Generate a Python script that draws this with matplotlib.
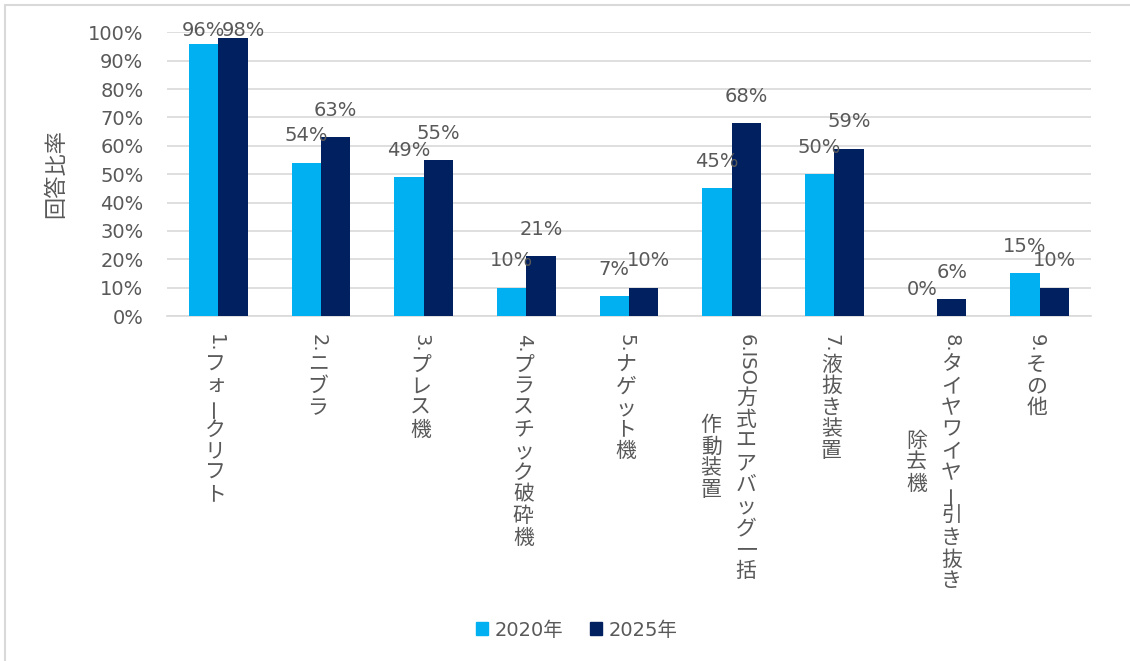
import matplotlib
matplotlib.use("Agg")
import matplotlib.pyplot as plt
from matplotlib.patches import Rectangle
from matplotlib.font_manager import FontProperties
import numpy as np

# ---------------- data ----------------
categories = [
    "1.フォークリフト",
    "2.ニブラ",
    "3.プレス機",
    "4.プラスチック破砕機",
    "5.ナゲット機",
    "6.ISO方式エアバッグ一括\n作動装置",
    "7.液抜き装置",
    "8.タイヤワイヤー引き抜き\n除去機",
    "9.その他",
]
values_2020 = [96, 54, 49, 10, 7, 45, 50, 0, 15]
values_2025 = [98, 63, 55, 21, 10, 68, 59, 6, 10]
series_names = ["2020年", "2025年"]
ytick_values = [0, 10, 20, 30, 40, 50, 60, 70, 80, 90, 100]
ytick_labels = [f"{v}%" for v in ytick_values]
y_label = "回答比率"

# ---------------- style ----------------
C2020 = "#00B0F0"
C2025 = "#002060"
TXT = "#595959"
GRID = "#D9D9D9"
LATIN_SIZE = 14
CJK_SIZE = 15

plt.rcParams['font.family'] = ['DejaVu Sans', 'Noto Sans CJK JP']

W, H = 1130, 661
fig = plt.figure(figsize=(W / 100, H / 100), dpi=100)

# outer chart border (left + top visible)
fig.patches.append(Rectangle((5 / W, -0.1), 1.2, (1 - 5 / H) + 0.1,
                             transform=fig.transFigure, fill=False,
                             edgecolor=GRID, linewidth=1.5))

ax = fig.add_axes([167 / W, 1 - 316 / H, (1091 - 167) / W, (316 - 32.3) / H])

x = np.arange(len(categories))
bw = 0.287
v20 = np.array(values_2020) / 100
v25 = np.array(values_2025) / 100
ax.bar(x - bw / 2, v20, bw, color=C2020, zorder=3, label=series_names[0])
ax.bar(x + bw / 2, v25, bw, color=C2025, zorder=3, label=series_names[1])

ax.set_xlim(-0.5, len(categories) - 0.5)
ax.set_ylim(0, 1)
ax.set_yticks(np.array(ytick_values) / 100)
ax.set_yticklabels(ytick_labels)
ax.yaxis.grid(True, color=GRID, linewidth=1.2, zorder=0)
ax.set_axisbelow(True)
for s in ['top', 'right', 'left']:
    ax.spines[s].set_visible(False)
ax.spines['bottom'].set_color(GRID)
ax.spines['bottom'].set_linewidth(1.2)
ax.tick_params(axis='y', length=0, pad=17, labelsize=LATIN_SIZE, labelcolor=TXT)
ax.set_xticks([])

# ---------------- data labels ----------------
label_nudge = {(0, 1): 10, (4, 1): 5}  # pixel nudges to avoid overlap
for si, vals in enumerate([values_2020, values_2025]):
    for i, v in enumerate(vals):
        xc = i + (-bw / 2 if si == 0 else bw / 2)
        yc = min(v + 9.5, 100.7) / 100
        ax.annotate(f"{v}%", xy=(xc, yc), xytext=(label_nudge.get((i, si), 0), 0),
                    textcoords='offset pixels', ha='center', va='center',
                    fontsize=LATIN_SIZE, color=TXT, annotation_clip=False,
                    family='DejaVu Sans')

# ---------------- vertical category labels ----------------
renderer = fig.canvas.get_renderer()
latin_fp = FontProperties(family='DejaVu Sans', size=LATIN_SIZE)
cjk_adv = 21.7


def split_runs(line):
    runs = []
    buf = ""
    for ch in line:
        if ord(ch) < 0x2000:
            buf += ch
        else:
            if buf:
                runs.append(("latin", buf))
                buf = ""
            runs.append(("cjk", ch))
    if buf:
        runs.append(("latin", buf))
    return runs


def run_len(kind, s):
    if kind == "latin":
        w, h, d = renderer.get_text_width_height_descent(s, latin_fp, ismath=False)
        return w + 2
    return cjk_adv


xtrans = ax.get_xaxis_transform()
top_gap = 17
col_sep = 35
for i, lab in enumerate(categories):
    lines = lab.split("\n")
    n = len(lines)
    runs_per_line = [split_runs(l) for l in lines]
    lens = [sum(run_len(k, s) for k, s in r) for r in runs_per_line]
    Lmax = max(lens)
    for li, runs in enumerate(runs_per_line):
        dx = -3 + ((n - 1) / 2 - li) * col_sep
        cum = top_gap + (Lmax - lens[li]) / 2
        for kind, s in runs:
            L = run_len(kind, s)
            yc = -(cum + L / 2)
            if kind == "latin":
                ax.annotate(s, xy=(i, 0), xycoords=xtrans, xytext=(dx, yc),
                            textcoords='offset pixels', rotation=270,
                            ha='center', va='center', fontsize=LATIN_SIZE,
                            color=TXT, family='DejaVu Sans', annotation_clip=False)
            else:
                rot = 90 if s == "ー" else 0
                ax.annotate(s, xy=(i, 0), xycoords=xtrans, xytext=(dx, yc),
                            textcoords='offset pixels', rotation=rot,
                            ha='center', va='center', fontsize=CJK_SIZE,
                            color=TXT, family='Noto Sans CJK JP', annotation_clip=False)
            cum += L

# ---------------- y label ----------------
fig.text(56 / W, 1 - 174 / H, y_label, rotation=90, ha='center', va='center',
         fontsize=16, color=TXT, family='Noto Sans CJK JP')

# ---------------- legend ----------------
handles = [Rectangle((0, 0), 1, 1, color=C2020), Rectangle((0, 0), 1, 1, color=C2025)]
leg = fig.legend(handles, series_names, loc='center',
                 bbox_to_anchor=(577 / W, 1 - 630 / H), ncol=2, frameon=False,
                 fontsize=LATIN_SIZE, handlelength=0.6, handleheight=0.6,
                 handletextpad=0.35, columnspacing=1.4)
for t in leg.get_texts():
    t.set_color(TXT)

fig.savefig("out.png", dpi=100)
